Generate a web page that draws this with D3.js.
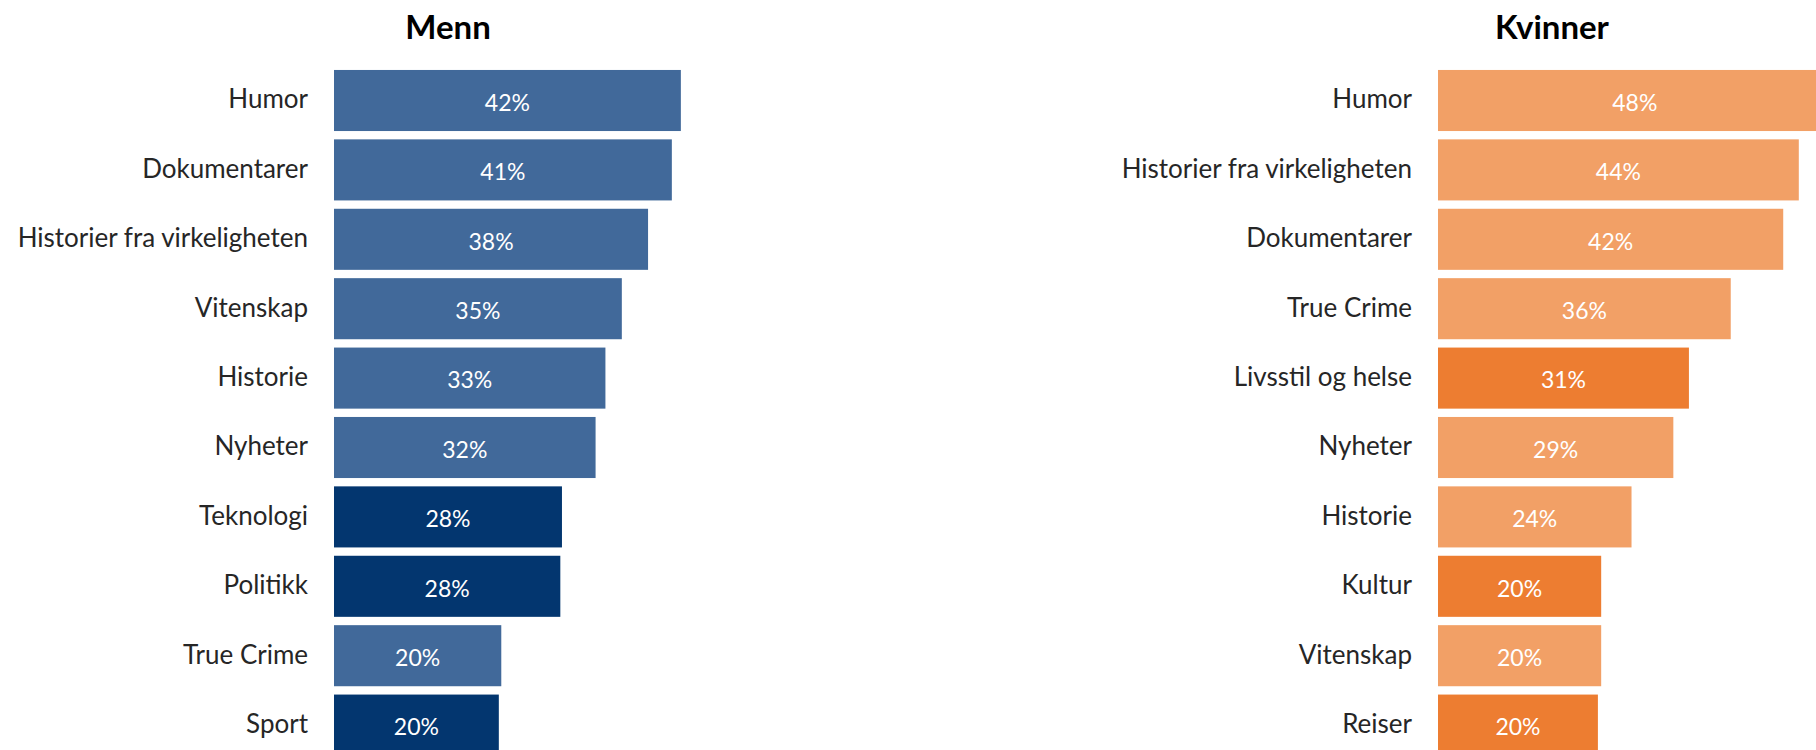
<!DOCTYPE html>
<html lang="no">
<head>
    <meta charset="UTF-8">
    <title>Menn / Kvinner</title>
    <script src="https://d3js.org/d3.v7.min.js"></script>
    <style>
        body {
            margin: 0;
            padding: 0;
            background: #ffffff;
            overflow: hidden;
        }
        svg {
            display: block;
            font-family: Lato, "Open Sans", sans-serif;
        }
        .cat .tick text {
            font-family: Lato, "Open Sans", sans-serif;
            font-size: 26px;
            fill: #262626;
        }
        .title {
            font-size: 33px;
            font-weight: bold;
            fill: #000;
        }
        .val {
            font-size: 23px;
            fill: #fff;
        }
    </style>
</head>
<body>
<div id="chart"></div>
<script>
    // data
    const menCategories = ["Humor", "Dokumentarer", "Historier fra virkeligheten", "Vitenskap", "Historie",
        "Nyheter", "Teknologi", "Politikk", "True Crime", "Sport"]
    const menValues = [42.3, 41.2, 38.3, 35.1, 33.1, 31.9, 27.8, 27.6, 20.4, 20.1]
    const menHighlight = ["Teknologi", "Politikk", "Sport"]

    const womenCategories = ["Humor", "Historier fra virkeligheten", "Dokumentarer", "True Crime", "Livsstil og helse",
        "Nyheter", "Historie", "Kultur", "Vitenskap", "Reiser"]
    const womenValues = [48.0, 44.0, 42.1, 35.7, 30.6, 28.7, 23.6, 19.9, 19.9, 19.5]
    const womenHighlight = ["Livsstil og helse", "Kultur", "Reiser"]

    const width = 1816
    const height = 750

    const svg = d3.select("#chart")
        .append("svg")
            .attr("width", width)
            .attr("height", height)

    // same scale for both panels
    const xScale = d3.scaleLinear()
        .domain([0, 50])
        .range([0, 410])

    function drawPanel(left, title, categories, values, highlight, colors) {
        const data = categories.map((c, i) => ({ cat: c, value: values[i] }))

        const yScale = d3.scaleBand()
            .domain(categories)
            .range([65.8, 759.8])
            .paddingInner(0.12)
            .paddingOuter(0.06)

        const g = svg.append("g")
            .attr("transform", `translate(${left},0)`)

        g.append("text")
            .attr("class", "title")
            .attr("x", 114)
            .attr("y", 39)
            .attr("text-anchor", "middle")
            .text(title)

        g.selectAll("rect")
            .data(data)
            .join("rect")
            .attr("x", xScale(0))
            .attr("y", d => yScale(d.cat))
            .attr("width", d => xScale(d.value) - xScale(0))
            .attr("height", yScale.bandwidth())
            .attr("fill", d => highlight.includes(d.cat) ? colors[1] : colors[0])

        g.selectAll("text.val")
            .data(data)
            .join("text")
            .attr("class", "val")
            .attr("x", d => xScale(d.value / 2))
            .attr("y", d => yScale(d.cat) + yScale.bandwidth() / 2)
            .attr("dy", "0.45em")
            .attr("text-anchor", "middle")
            .text(d => Math.round(d.value) + "%")

        const yAxis = g.append("g")
            .attr("class", "cat")
            .call(d3.axisLeft(yScale).tickSize(0).tickPadding(26))
        yAxis.select(".domain").remove()
        yAxis.selectAll(".tick text").attr("dy", "0.3em")
    }

    drawPanel(334, "Menn", menCategories, menValues, menHighlight, ["#41699a", "#03366f"])
    drawPanel(1438, "Kvinner", womenCategories, womenValues, womenHighlight, ["#f2a066", "#ed7d31"])
</script>
</body>
</html>
